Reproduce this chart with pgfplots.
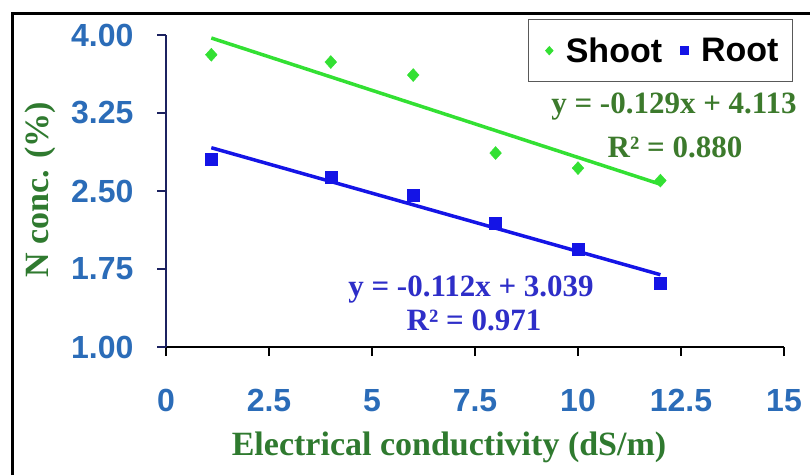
\documentclass[border=0pt]{standalone}
\usepackage{pgfplots}
\pgfplotsset{compat=1.18}
\usepackage{fontspec}
\setmainfont{Liberation Serif}
\newfontfamily\arial{Liberation Sans}
\definecolor{shootgreen}{HTML}{33E033}
\definecolor{rootblue}{HTML}{1414E6}
\definecolor{eqgreen}{HTML}{3C7A2C}
\definecolor{eqblue}{HTML}{2E2EC8}
\definecolor{labgreen}{HTML}{2F7A2F}
\definecolor{tickblue}{HTML}{2B6CB8}
\definecolor{navy}{HTML}{1C2260}
\begin{document}
\begin{tikzpicture}[x=1pt,y=1pt]
\useasboundingbox (0,0) rectangle (810,475);
\draw[line width=3pt] (12.5,0) -- (12.5,461) -- (810,461);
\begin{axis}[at={(166pt,128pt)}, anchor=south west, scale only axis,
  width=618pt, height=312pt,
  xmin=0, xmax=15, ymin=1, ymax=4,
  axis x line=bottom, axis y line=left, axis line style={-},
  x axis line style={black, line width=2.5pt},
  y axis line style={navy, line width=2.5pt},
  xtick={0,2.5,5,7.5,10,12.5,15}, ytick={1,1.75,2.5,3.25,4},
  tick align=outside, major tick length=9pt,
  xtick style={draw=black, line width=2.5pt}, ytick style={draw=navy, line width=2.5pt},
  ticklabel style={font=\arial\bfseries\fontsize{32}{34}\selectfont, text=tickblue},
  /pgf/number format/assume math mode=true,
  xticklabel style={yshift=-30pt},
  yticklabel style={xshift=-20pt, /pgf/number format/.cd, fixed, fixed zerofill, precision=2},
  legend style={at={(rel axis cs:1.0146,1.051)}, anchor=north east, legend columns=2,
    draw=gray!70!black, line width=1pt, font=\arial\bfseries\fontsize{34}{36}\selectfont,
    inner xsep=12pt, inner ysep=16pt, /tikz/every even column/.append style={column sep=12pt}},
  legend image code/.code={\path (-8pt,0pt) (14pt,0pt); \draw[#1, mark size=4pt] plot coordinates {(0pt,0pt)};},
  clip=false]
\addplot[only marks, mark=diamond*, mark size=6.5pt, mark options={xscale=1.2}, shootgreen] coordinates {
  (1.1,3.81) (4,3.74) (6,3.615) (8,2.865) (10,2.72) (12,2.60)};
\addlegendentry{Shoot}
\addplot[only marks, mark=square*, mark size=6pt, rootblue] coordinates {
  (1.1,2.81) (4,2.635) (6,2.46) (8,2.19) (10,1.94) (12,1.615)};
\addlegendentry{Root}
\addplot[shootgreen, line width=3.5pt, forget plot] coordinates {(1.1,3.971) (12,2.565)};
\addplot[rootblue, line width=3.5pt, forget plot] coordinates {(1.1,2.916) (12,1.695)};
\end{axis}
\node[font=\bfseries\fontsize{31}{33}\selectfont, text=eqgreen] at (674,368) {y = -0.129x + 4.113};
\node[font=\bfseries\fontsize{31}{33}\selectfont, text=eqgreen] at (675,328) {R² = 0.880};
\node[font=\bfseries\fontsize{31}{33}\selectfont, text=eqblue] at (471,185) {y = -0.112x + 3.039};
\node[font=\bfseries\fontsize{31}{33}\selectfont, text=eqblue] at (474,155) {R² = 0.971};
\node[font=\bfseries\fontsize{34}{36}\selectfont, text=labgreen] at (449,28) {Electrical conductivity (dS/m)};
\node[font=\bfseries\fontsize{34}{36}\selectfont, text=labgreen, rotate=90] at (40,285) {N conc. (\%)};
\end{tikzpicture}
\end{document}
